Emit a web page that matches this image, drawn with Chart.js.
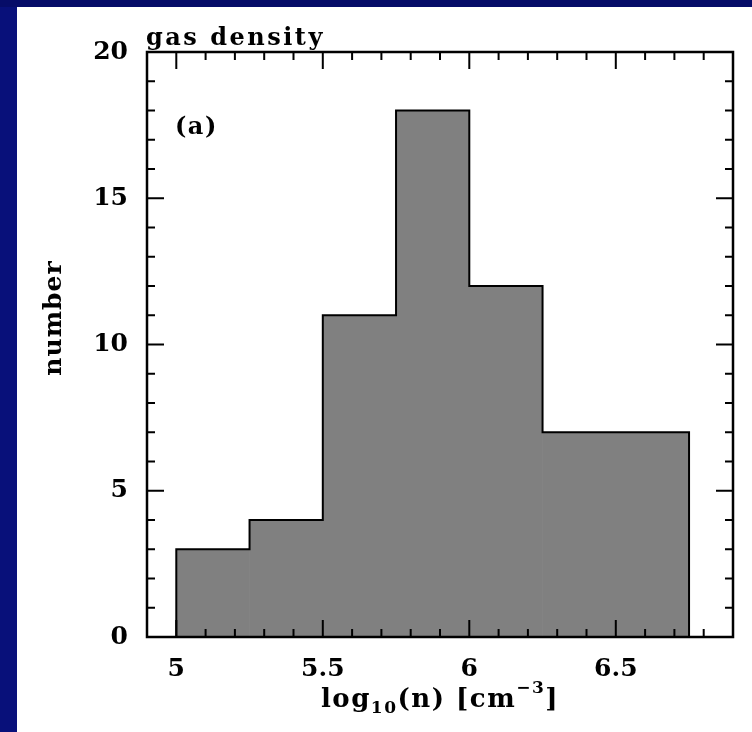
<!DOCTYPE html>
<html>
<head>
<meta charset="utf-8">
<script src="https://cdn.jsdelivr.net/npm/chart.js@4"></script>
<style>
  html, body { margin:0; padding:0; }
  body { width:752px; height:732px; background:#08107a; position:relative; overflow:hidden; }
  #topbar { position:absolute; left:0; top:0; width:752px; height:7px; background:#060c68; }
  #panel { position:absolute; left:17px; top:7px; right:0; bottom:0; background:#fff; }
  #chart { position:absolute; left:0; top:0; }
</style>
</head>
<body>
<div id="topbar"></div>
<div id="panel"></div>
<canvas id="chart" width="752" height="732"></canvas>
<script>
// histogram of log10 gas density, bins of 0.25 dex
const binEdges = [5.0, 5.25, 5.5, 5.75, 6.0, 6.25, 6.5, 6.75];
const counts   = [3, 4, 11, 18, 12, 7, 7];
const xRange = [4.9, 6.9];
const yRange = [0, 20];
const xTickValues = [5, 5.5, 6, 6.5];
const yTickValues = [0, 5, 10, 15, 20];

const titleText = 'gas density';
const panelTag = '(a)';
const yTitle = 'number';

const FONT = '"DejaVu Serif", "Liberation Serif", serif';

// bar centres + a step outline, all built from the edges/counts above
const bars = counts.map((c, i) => ({ x: (binEdges[i] + binEdges[i+1]) / 2, y: c }));
const outline = [{ x: binEdges[0], y: 0 }];
counts.forEach((c, i) => {
  outline.push({ x: binEdges[i], y: c });
  outline.push({ x: binEdges[i+1], y: c });
});
outline.push({ x: binEdges[binEdges.length-1], y: 0 });

function fmtX(v) {
  return Number.isInteger(v) ? String(v) : v.toFixed(1);
}

// frame, inward ticks on all four sides, and the text labels
const decor = {
  id: 'decor',
  afterDatasetsDraw(chart) {
    const { ctx, chartArea: a, scales: { x, y } } = chart;
    ctx.save();
    ctx.strokeStyle = '#000';
    ctx.lineWidth = 2;
    ctx.beginPath();
    for (let i = Math.round(xRange[0]*10) + 1; i < Math.round(xRange[1]*10); i++) {
      const px = x.getPixelForValue(i / 10);
      const len = (i % 5 === 0) ? 17 : 8;
      ctx.moveTo(px, a.bottom); ctx.lineTo(px, a.bottom - len);
      ctx.moveTo(px, a.top);    ctx.lineTo(px, a.top + len);
    }
    for (let i = yRange[0] + 1; i < yRange[1]; i++) {
      const py = y.getPixelForValue(i);
      const len = (i % 5 === 0) ? 17 : 8;
      ctx.moveTo(a.left, py);  ctx.lineTo(a.left + len, py);
      ctx.moveTo(a.right, py); ctx.lineTo(a.right - len, py);
    }
    ctx.stroke();
    ctx.lineWidth = 2.5;
    ctx.strokeRect(a.left, a.top, a.right - a.left, a.bottom - a.top);
    ctx.restore();
  },
  afterDraw(chart) {
    const { ctx, chartArea: a } = chart;
    ctx.save();
    ctx.fillStyle = '#000';
    ctx.textBaseline = 'alphabetic';

    ctx.font = 'bold 24px ' + FONT;
    ctx.letterSpacing = '2.5px';
    ctx.textAlign = 'left';
    ctx.fillText(titleText, a.left - 1, a.top - 7);
    ctx.letterSpacing = '1.5px';
    ctx.fillText(panelTag, a.left + 28, a.top + 82);

    ctx.font = 'bold 25px ' + FONT;
    ctx.letterSpacing = '1px';
    ctx.save();
    ctx.translate(61, 318);
    ctx.rotate(-Math.PI / 2);
    ctx.textAlign = 'center';
    ctx.fillText(yTitle, 0, 0);
    ctx.restore();

    // log10(n) [cm^-3] with sub/superscripts
    const parts = [
      { t: 'log', size: 26, dy: 0 },
      { t: '10', size: 17, dy: 6 },
      { t: '(n) [cm', size: 26, dy: 0 },
      { t: '\u22123', size: 17, dy: -14 },
      { t: ']', size: 26, dy: 0 }
    ];
    ctx.letterSpacing = '1.5px';
    let total = 0;
    parts.forEach(p => { ctx.font = `bold ${p.size}px ${FONT}`; p.w = ctx.measureText(p.t).width; total += p.w; });
    let cx = 440 - total / 2;
    const base = 707;
    parts.forEach(p => {
      ctx.font = `bold ${p.size}px ${FONT}`;
      ctx.fillText(p.t, cx, base + p.dy);
      cx += p.w;
    });
    ctx.restore();
  }
};

new Chart(document.getElementById('chart'), {
  data: {
    datasets: [
      {
        type: 'line',
        data: outline,
        borderColor: '#000',
        borderWidth: 2,
        pointRadius: 0,
        fill: false,
        tension: 0,
        order: 0
      },
      {
        type: 'bar',
        data: bars,
        backgroundColor: '#808080',
        borderWidth: 0,
        barPercentage: 1,
        categoryPercentage: 1,
        order: 1
      }
    ]
  },
  options: {
    responsive: false,
    animation: false,
    devicePixelRatio: 1,
    layout: { padding: { left: 0, right: 19, top: 52, bottom: 0 } },
    plugins: { legend: { display: false }, tooltip: { enabled: false }, title: { display: false } },
    scales: {
      x: {
        type: 'linear',
        position: 'bottom',
        offset: false,
        min: xRange[0], max: xRange[1],
        grid: { display: false, drawTicks: false, offset: false },
        border: { display: false },
        afterBuildTicks: s => { s.ticks = xTickValues.map(v => ({ value: v })); },
        ticks: {
          autoSkip: false,
          maxRotation: 0,
          padding: 17,
          color: '#000',
          font: { family: FONT, weight: 'bold', size: 25 },
          callback: v => fmtX(v)
        },
        afterFit: s => { s.height = 95; }
      },
      y: {
        type: 'linear',
        min: yRange[0], max: yRange[1],
        grid: { display: false, drawTicks: false },
        border: { display: false },
        afterBuildTicks: s => { s.ticks = yTickValues.map(v => ({ value: v })); },
        ticks: {
          padding: 19,
          color: '#000',
          font: { family: FONT, weight: 'bold', size: 25 }
        },
        afterFit: s => { s.width = 147; }
      }
    }
  },
  plugins: [decor]
});
</script>
</body>
</html>
